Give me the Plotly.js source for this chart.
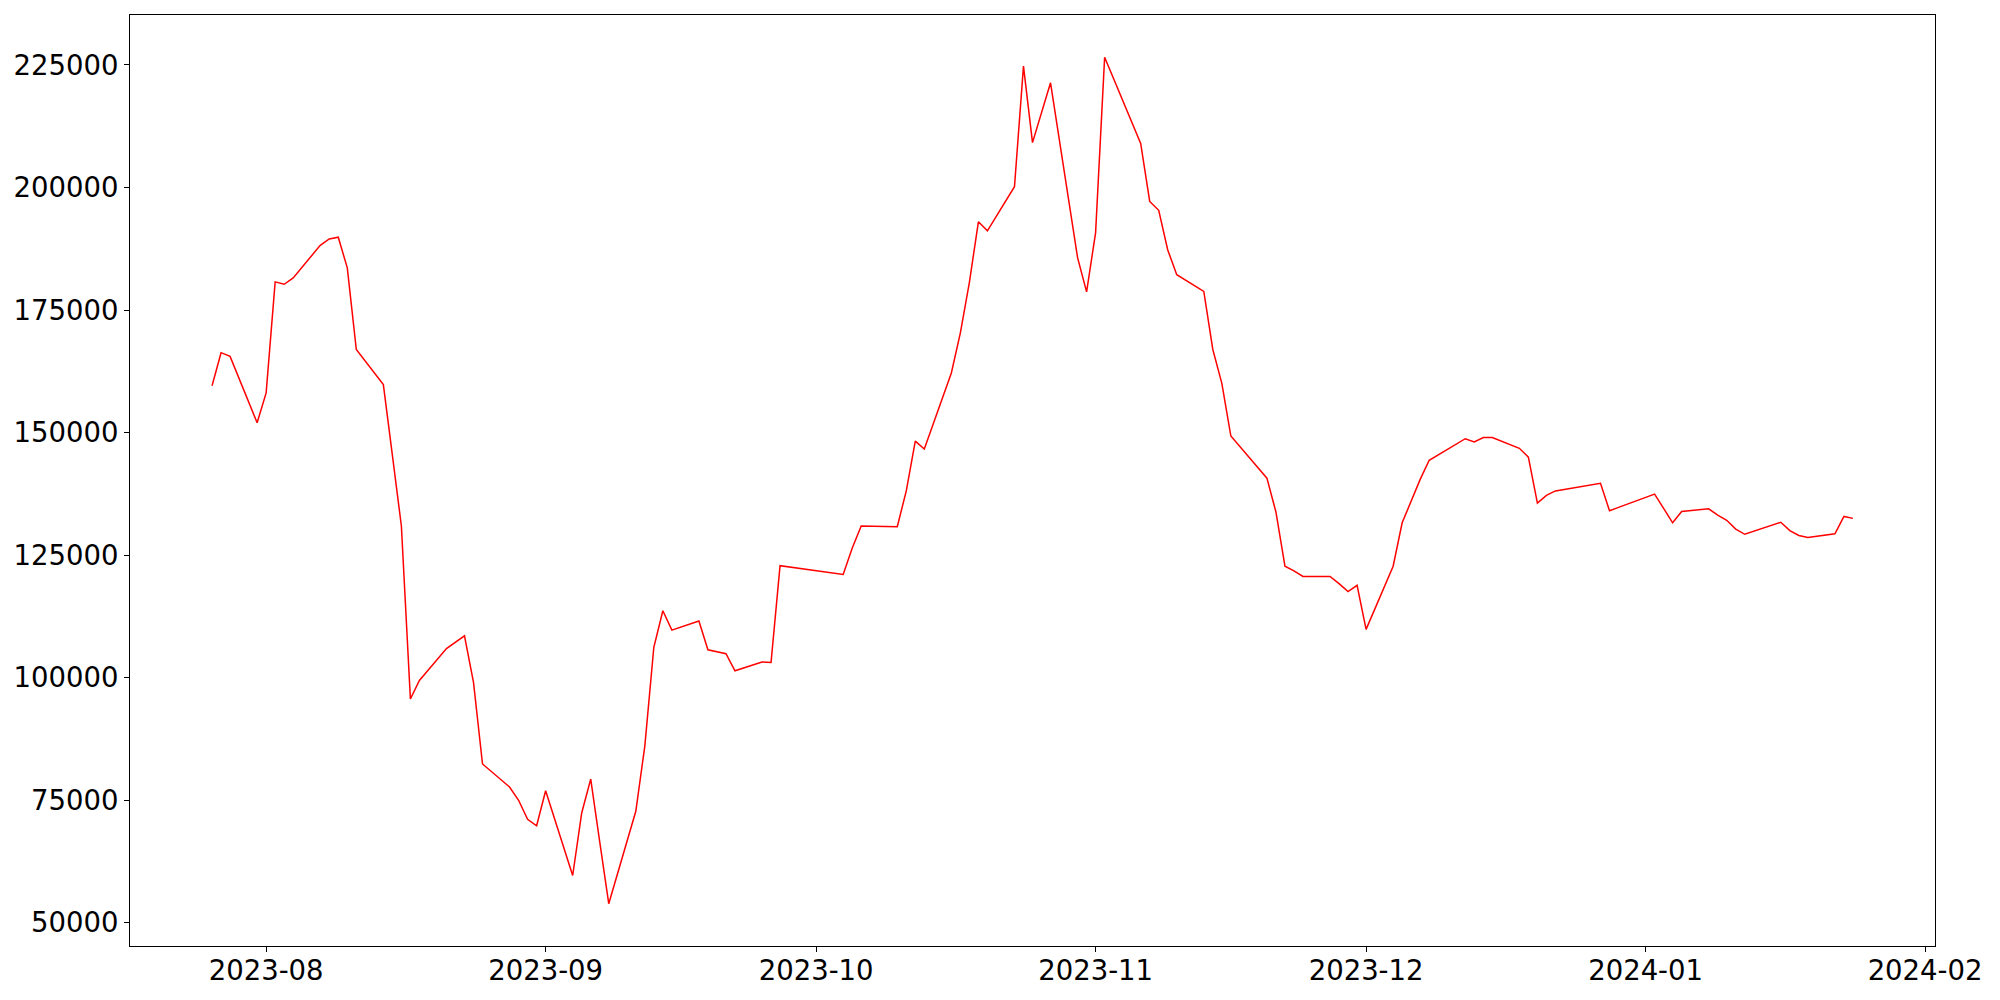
<!DOCTYPE html>
<html>
<head>
<meta charset="utf-8">
<script src="https://cdn.plot.ly/plotly-3.0.1.min.js"></script>
<style>html,body{margin:0;padding:0;background:#fff;}#chart{width:2000px;height:1000px;}</style>
</head>
<body>
<div id="chart"></div>
<script>
const dates = [
  "2023-07-26","2023-07-27","2023-07-28","2023-07-31",
  "2023-08-01","2023-08-02","2023-08-03","2023-08-04",
  "2023-08-07","2023-08-08","2023-08-09","2023-08-10","2023-08-11",
  "2023-08-14","2023-08-15","2023-08-16","2023-08-17","2023-08-18",
  "2023-08-21","2023-08-22","2023-08-23","2023-08-24","2023-08-25",
  "2023-08-28","2023-08-29","2023-08-30","2023-08-31","2023-09-01",
  "2023-09-04","2023-09-05","2023-09-06","2023-09-07","2023-09-08",
  "2023-09-11","2023-09-12","2023-09-13","2023-09-14","2023-09-15",
  "2023-09-18","2023-09-19","2023-09-20","2023-09-21","2023-09-22",
  "2023-09-25","2023-09-26","2023-09-27",
  "2023-10-04","2023-10-05","2023-10-06",
  "2023-10-10","2023-10-11","2023-10-12","2023-10-13",
  "2023-10-16","2023-10-17","2023-10-18","2023-10-19","2023-10-20",
  "2023-10-23","2023-10-24","2023-10-25","2023-10-26","2023-10-27",
  "2023-10-30","2023-10-31","2023-11-01","2023-11-02",
  "2023-11-06","2023-11-07","2023-11-08","2023-11-09","2023-11-10",
  "2023-11-13","2023-11-14","2023-11-15","2023-11-16","2023-11-17",
  "2023-11-20","2023-11-21","2023-11-22","2023-11-23","2023-11-24",
  "2023-11-27","2023-11-28","2023-11-29","2023-11-30","2023-12-01",
  "2023-12-04","2023-12-05","2023-12-06","2023-12-07","2023-12-08",
  "2023-12-11","2023-12-12","2023-12-13","2023-12-14","2023-12-15",
  "2023-12-18","2023-12-19","2023-12-20","2023-12-21","2023-12-22",
  "2023-12-27","2023-12-28","2023-12-29",
  "2024-01-02","2024-01-03","2024-01-04","2024-01-05",
  "2024-01-08","2024-01-09","2024-01-10","2024-01-11","2024-01-12",
  "2024-01-16","2024-01-17","2024-01-18","2024-01-19",
  "2024-01-22","2024-01-23","2024-01-24"
];
const values = [
  159550,166300,165550,152000,
  158100,180750,180250,181550,
  188200,189500,189850,183600,166950,
  159800,145400,130950,95650,99450,
  105950,107250,108550,99050,82400,
  77700,75000,71100,69800,76950,
  59650,72400,79300,66500,53900,
  72750,86050,106200,113650,109700,
  111550,105700,105300,104900,101400,
  103200,103100,122850,
  121050,126400,130950,
  130800,138100,148250,146650,
  162150,170350,180650,193000,191150,
  200150,224750,209150,215500,221350,
  185700,178700,190800,226550,
  209000,197150,195350,187250,182200,
  178800,166950,160050,149300,147150,
  140700,133800,122750,121800,120650,
  120650,119200,117550,118850,109850,
  122750,131600,136000,140450,144350,
  147650,148750,148100,149000,149000,
  146800,145000,135600,137200,138100,
  139650,134050,134750,
  137450,134550,131600,133900,
  134450,133150,132100,130300,129250,
  131700,130000,129000,128600,
  129350,132900,132500
];
const yTicks = [50000,75000,100000,125000,150000,175000,200000,225000];

// matplotlib-style 5% margins
const t0 = new Date(dates[0]+"T00:00:00Z").getTime();
const t1 = new Date(dates[dates.length-1]+"T00:00:00Z").getTime();
const dx = (t1 - t0) * 0.05;
const fmt = t => new Date(t).toISOString().replace("T"," ").replace("Z","");
const vmin = Math.min(...values), vmax = Math.max(...values);
const dy = (vmax - vmin) * 0.05;

const axisCommon = {
  showgrid: false, zeroline: false, showline: true, mirror: true,
  linecolor: "#000", linewidth: 1, ticks: "outside", ticklen: 5,
  tickwidth: 1, tickcolor: "#000",
  tickfont: {family: "DejaVu Sans", size: 27.5, color: "#000"}
};

Plotly.newPlot("chart", [{
  x: dates, y: values, type: "scatter", mode: "lines",
  line: {color: "#ff0000", width: 1.5}, showlegend: false, hoverinfo: "x+y"
}], {
  width: 2000, height: 1000,
  margin: {l: 130, r: 65, t: 15, b: 54, pad: 0},
  paper_bgcolor: "#fff", plot_bgcolor: "#fff",
  xaxis: Object.assign({}, axisCommon, {
    type: "date", range: [fmt(t0 - dx), fmt(t1 + dx)],
    tick0: "2023-08-01", dtick: "M1", tickformat: "%Y-%m",
    ticklabelstandoff: -5
  }),
  yaxis: Object.assign({}, axisCommon, {
    range: [vmin - dy, vmax + dy],
    tickmode: "array", tickvals: yTicks, ticktext: yTicks.map(String)
  })
}, {staticPlot: true});
</script>
</body>
</html>
